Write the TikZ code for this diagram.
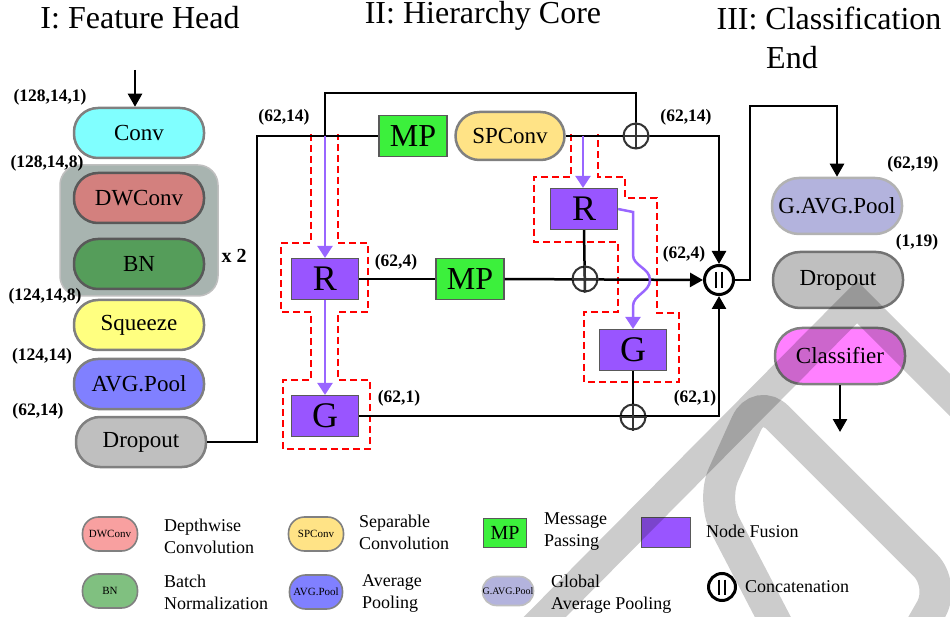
\documentclass[tikz,border=0pt]{standalone}
\usepackage{fontspec}
\setmainfont{Liberation Serif}
\usetikzlibrary{arrows.meta,calc}
\definecolor{cconv}{HTML}{80FFFF}
\definecolor{cdw}{HTML}{D3807E}
\definecolor{cbn}{HTML}{559D5A}
\definecolor{csq}{HTML}{FFFF80}
\definecolor{cavg}{HTML}{8080FF}
\definecolor{cdrop}{HTML}{BFBFBF}
\definecolor{csp}{HTML}{FFE386}
\definecolor{cmp}{HTML}{3CF03C}
\definecolor{cfuse}{HTML}{9955FF}
\definecolor{cpurp}{HTML}{9966FF}
\definecolor{cgap}{HTML}{B3B3DD}
\definecolor{ccls}{HTML}{FF80FF}
\definecolor{cgrp}{HTML}{A8B4B0}
\definecolor{cldw}{HTML}{F8A0A0}
\definecolor{clbn}{HTML}{80C080}
\begin{document}
\begin{tikzpicture}[x=1pt,y=-1pt,
  pill/.style={rounded corners=24pt, minimum width=130pt, minimum height=50pt,
    line width=2.5pt, draw=black!50, inner sep=0pt, font=\fontsize{23}{24}\selectfont},
  lpill/.style={rounded corners=16pt, minimum width=55pt, minimum height=34pt,
    line width=1.6pt, draw=black!50, inner sep=0pt, font=\fontsize{11}{12}\selectfont},
  dim/.style={inner sep=0pt, font=\bfseries\fontsize{17.5}{18}\selectfont},
  ttl/.style={inner sep=0pt, font=\fontsize{32}{40}\selectfont, align=center},
  legtxt/.style={inner sep=0pt, anchor=west, align=left, font=\fontsize{18}{22}\selectfont},
  fusebox/.style={draw=black!65, fill=cfuse, line width=1.2pt, minimum width=67pt,
    minimum height=41pt, inner sep=0pt, font=\fontsize{36}{36}\selectfont},
  mpbox/.style={draw=black!65, fill=cmp, line width=1.2pt, minimum width=68pt,
    minimum height=41pt, inner sep=0pt, font=\fontsize{32}{32}\selectfont},
  conn/.style={line width=2.5pt, draw=black},
  arr/.style={-{Triangle[length=13pt,width=14pt]}},
  parr/.style={draw=cpurp, line width=2.5pt, -{Triangle[length=12pt,width=15pt]}},
  reddash/.style={draw=red, line width=2.5pt, dash pattern=on 7pt off 4pt},
  opl/.style={circle, draw=black!80, line width=2pt, minimum size=25pt, inner sep=0pt},
  catc/.style={circle, draw=black, fill=white, line width=3pt, minimum size=29pt, inner sep=0pt},
  wmark/.style={draw=black, opacity=0.2},
]
\useasboundingbox (0,0) rectangle (950,617);

% titles
\node[ttl] (t1) at (140,18) {I: Feature Head};
\node[ttl] (t2) at (483,16) {II: Hierarchy Core};
\node[ttl] (t3) at (829,18) {III: Classification};
\node[ttl] (t3b) at (792,58) {End};

% feature head
\node[draw=black!25, line width=1.5pt, fill=cgrp, rounded corners=20pt,
  minimum width=158pt, minimum height=131pt] (grp) at (139,230.5) {};
\node[pill, fill=cconv] (conv) at (139,133) {Conv};
\node[pill, fill=cdw, draw=black!65] (dw) at (139,198) {DWConv};
\node[pill, fill=cbn, draw=black!65] (bn) at (139,264) {BN};
\node[pill, fill=csq] (sq) at (139,325) {Squeeze};
\node[pill, fill=cavg] (avg) at (139,384) {AVG.Pool};
\node[pill, fill=cdrop] (drop) at (141,442) {Dropout};
\node[inner sep=0pt, font=\bfseries\fontsize{20}{20}\selectfont] (x2) at (234,256) {x 2};
\node[dim] (d1) at (50,97) {(128,14,1)};
\node[dim] (d2) at (47,163) {(128,14,8)};
\node[dim] (d3) at (45,296) {(124,14,8)};
\node[dim] (d4) at (42,356) {(124,14)};
\node[dim] (d5) at (38,411) {(62,14)};
\coordinate (in) at (135,70);
\draw[conn,arr] (in) -- (in |- conv.north);

% red dashed outlines
\draw[reddash] (311,134) -- (311,243) -- (281,243) -- (281,312) -- (311,312) -- (311,380)
  -- (283,380) -- (283,449) -- (370,449) -- (370,380) -- (338,380) -- (338,312)
  -- (368,312) -- (368,243) -- (338,243) -- (338,134);
\draw[reddash] (571,134) -- (571,177) -- (534,177) -- (534,242) -- (618,242) -- (618,312)
  -- (584,312) -- (584,382) -- (679,382) -- (679,313) -- (657,313) -- (657,198)
  -- (625,198) -- (625,177) -- (598,177) -- (598,134);

% core nodes
\node[mpbox] (mp1) at (413,136) {MP};
\node[pill, fill=csp, minimum width=109pt, minimum height=48pt] (spc) at (510,136) {SPConv};
\node[fusebox] (r1) at (325,279) {R};
\node[fusebox] (g1) at (325,416) {G};
\node[mpbox] (mp2) at (470,279) {MP};
\node[fusebox] (r2) at (584,209) {R};
\node[fusebox] (g2) at (633,350) {G};
\node[opl] (p1) at (636,136) {};
\node[opl] (p2) at (585,279) {};
\node[opl] (p3) at (633,417) {};
\node[catc] (cat) at (719,280) {};
\coordinate (j1) at (325,136);
\coordinate (top) at (325,93);
\coordinate (b1) at (257,442);
\coordinate (j2) at (583,136);

\node[dim] (d6) at (284,117) {(62,14)};
\node[dim] (d7) at (396,262) {(62,4)};
\node[dim] (d8) at (399,398) {(62,1)};
\node[dim] (d9) at (686,117) {(62,14)};
\node[dim] (d10) at (684,254) {(62,4)};
\node[dim] (d11) at (695,398) {(62,1)};

% connectors
\draw[conn] (drop.east) -- (b1) |- (mp1.west);
\draw[conn] (j1) -- (top) -| (p1.north);
\draw[conn,arr] (spc.east) -| (cat.north);
\draw[conn] (r1.east) -- (mp2.west);
\draw[conn,arr] (mp2.east) -- (cat.west);
\draw[conn] (r2.south) -- (p2.south);
\draw[conn] (g2.south) -- (p3.south);
\draw[conn,arr] (g1.east) -| (cat.south);
\draw[parr] (j1) -- (r1.north);
\draw[parr] (r1.south) -- (g1.north);
\draw[parr] (j2) -- (j2 |- r2.north);
\draw[parr] (r2.east) -- (633,212) -- (633,255) .. controls (633,266) and (650,268) .. (650,280)
  .. controls (650,292) and (633,295) .. (633,306) -- (g2.north);
\foreach \p in {p1,p2,p3}{
  \draw[draw=black!80, line width=2pt] (\p.north) -- (\p.south) (\p.west) -- (\p.east);
}
\draw[line width=2.5pt] ($(cat.center)+(-3,-8)$) -- ($(cat.center)+(-3,8)$)
  ($(cat.center)+(3,-8)$) -- ($(cat.center)+(3,8)$);

% classification end
\node[pill, fill=cgap, draw=black!30, minimum height=56pt, rounded corners=27pt] (gap) at (837,206) {G.AVG.Pool};
\node[pill, fill=cdrop, draw=black!55, minimum height=56pt, rounded corners=27pt] (drop2) at (838,280) {Dropout};
\node[pill, fill=ccls, draw=black!50, minimum height=56pt, rounded corners=27pt] (cls) at (840,356) {Classifier};
\node[dim] (d12) at (913,164) {(62,19)};
\node[dim] (d13) at (917,242) {(1,19)};
\coordinate (c1) at (750,106);
\coordinate (out) at (840,432);
\draw[conn,arr] (cat.east) -| (c1) -| (gap.north);
\draw[conn,arr] (cls.south) -- (out);

% legend
\node[lpill, fill=cldw] (l1) at (110,534) {DWConv};
\node[legtxt] (l1t) at (164,536) {Depthwise\\Convolution};
\node[lpill, fill=csp] (l2) at (316,534) {SPConv};
\node[legtxt] (l2t) at (359,532) {Separable\\Convolution};
\node[draw=black!65, fill=cmp, line width=1pt, minimum width=43pt, minimum height=29pt,
  inner sep=0pt, font=\fontsize{20}{20}\selectfont] (l3) at (505,533) {MP};
\node[legtxt] (l3t) at (544,532) {Message\\Passing};
\node[draw=black!65, fill=cfuse, line width=1pt, minimum width=49pt, minimum height=30pt] (l4) at (666,532) {};
\node[legtxt] (l4t) at (706,531) {Node Fusion};
\node[lpill, fill=clbn] (l5) at (110,591) {BN};
\node[legtxt] (l5t) at (164,592) {Batch\\Normalization};
\node[lpill, fill=cavg, minimum width=53pt] (l6) at (316,592) {AVG.Pool};
\node[legtxt] (l6t) at (362,593) {Average\\Pooling};
\node[lpill, fill=cgap, minimum width=51pt, minimum height=29pt, rounded corners=14pt,
  draw=black!25, font=\fontsize{10}{11}\selectfont] (l7) at (508,591) {G.AVG.Pool};
\node[legtxt] (l7t) at (551,594) {Global\\Average Pooling};
\node[catc, minimum size=27pt] (l8) at (722,587) {};
\draw[line width=2.5pt] ($(l8.center)+(-3,-7.5)$) -- ($(l8.center)+(-3,7.5)$)
  ($(l8.center)+(3,-7.5)$) -- ($(l8.center)+(3,7.5)$);
\node[legtxt] (l8t) at (745,587) {Concatenation};

% watermark
\draw[wmark, line width=30pt, line join=miter] (520,642) -- (857,302) -- (975,420);
\draw[wmark, line width=32pt, rounded corners=28pt]
  (790,650) -- (712,500) -- (758,398) -- (945,585) -- (905,655);
\end{tikzpicture}
\end{document}
